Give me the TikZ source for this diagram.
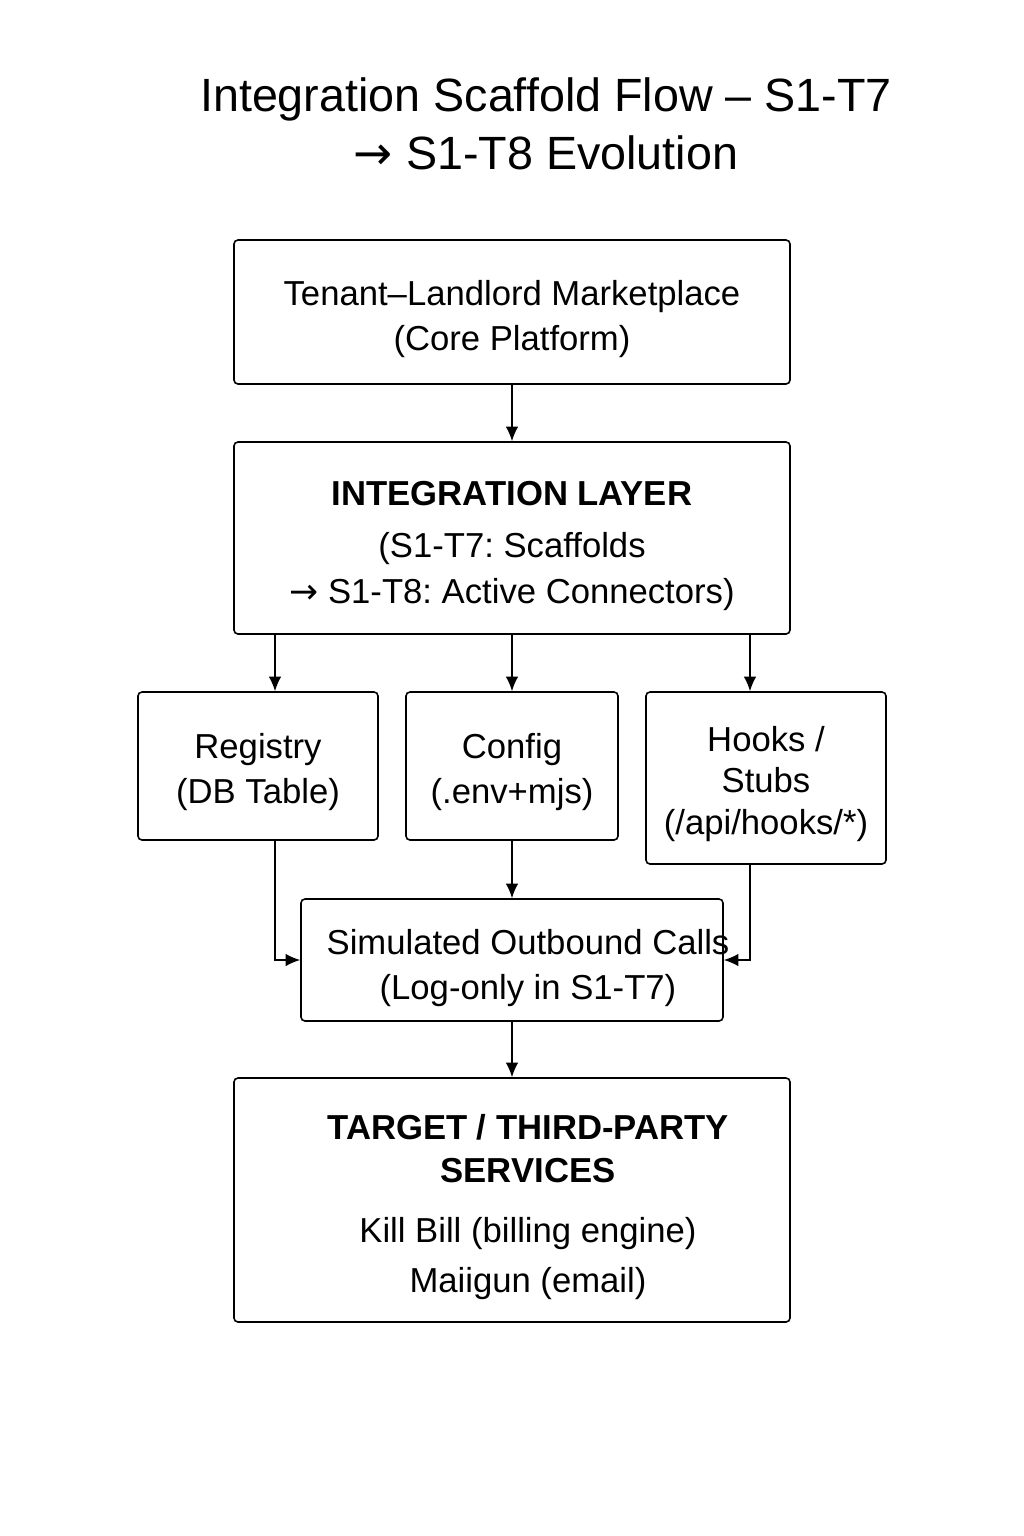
\documentclass[tikz,border=0pt]{standalone}
\usepackage{fontspec}
\setmainfont{Liberation Sans}
\newfontfamily\arrowfont{DejaVu Sans}
\usetikzlibrary{arrows.meta}

\frenchspacing
\newcommand{\boxfont}{\fontsize{26}{34}\selectfont}
\newcommand{\titlefont}{\fontsize{35}{43.5}\selectfont}
\newcommand{\goesto}{{\arrowfont →}}

\tikzset{
  box/.style={draw, rounded corners=3pt, line width=1.2pt},
  boxtext/.style={align=center, font=\boxfont},
  flow/.style={draw, line width=1.1pt, -{Latex[length=11pt,width=9.5pt]}},
}

\begin{document}
\begin{tikzpicture}[x=0.75pt,y=-0.75pt]
        \useasboundingbox (0,0) rectangle (1024,1536);

        \node[font=\titlefont, align=center] (title) at (546,124)
          {Integration Scaffold Flow – S1-T7\\\goesto{} S1-T8 Evolution};

        % boxes
        \begin{scope}[every node/.style={box}]
          \node[minimum width=417pt, minimum height=108pt]    (core)   at (512,312)  {};
          \node[minimum width=417pt, minimum height=144pt]    (layer)  at (512,538)  {};
          \node[minimum width=180pt, minimum height=111pt]    (reg)    at (258,766)  {};
          \node[minimum width=159pt, minimum height=111pt]    (conf)   at (512,766)  {};
          \node[minimum width=180pt, minimum height=129pt]    (hooks)  at (766,778)  {};
          \node[minimum width=316.5pt, minimum height=91.5pt] (sim)    at (512,960)  {};
          \node[minimum width=417pt, minimum height=183pt]    (target) at (512,1200) {};
        \end{scope}

        % texts
        \begin{scope}[every node/.style={boxtext}]
          \node (coretext)   at (512,319)  {Tenant–Landlord Marketplace\\(Core Platform)};
          \node (layertext)  at (512,546)  {\textbf{INTEGRATION LAYER}\\[5pt](S1-T7: Scaffolds\\\goesto{} S1-T8: Active Connectors)};
          \node (regtext)    at (258,772)  {Registry\\(DB Table)};
          \node (conftext)   at (512,772)  {Config\\(.env+mjs)};
          \node (hookstext)  at (766,784)  {Hooks /\\[-3pt]Stubs\\[-3pt](/api/hooks/*)};
          \node (simtext)    at (528,968)  {Simulated Outbound Calls\\(Log-only in S1-T7)};
          \node (targettext) at (528,1207) {\textbf{TARGET / THIRD-PARTY}\\[-2pt]\textbf{SERVICES}\\[11pt]Kill Bill (billing engine)\\[3.5pt]Maiigun (email)};
        \end{scope}

        \begin{scope}[every edge/.style={flow}]
          \path (core)  edge (layer);
          \path ([xshift=12.75pt]reg.north |- layer.south) edge ([xshift=12.75pt]reg.north);
          \path (layer.south -| conf.north) edge (conf.north);
          \path ([xshift=-12pt]hooks.north |- layer.south) edge ([xshift=-12pt]hooks.north);
          \path (conf)  edge (sim);
          \path (sim)   edge (target);
        \end{scope}

        \draw[flow] ([xshift=12.75pt]reg.south) |- (sim.west);
        \draw[flow] ([xshift=-12pt]hooks.south) |- (sim.east);

      \end{tikzpicture}
\end{document}
